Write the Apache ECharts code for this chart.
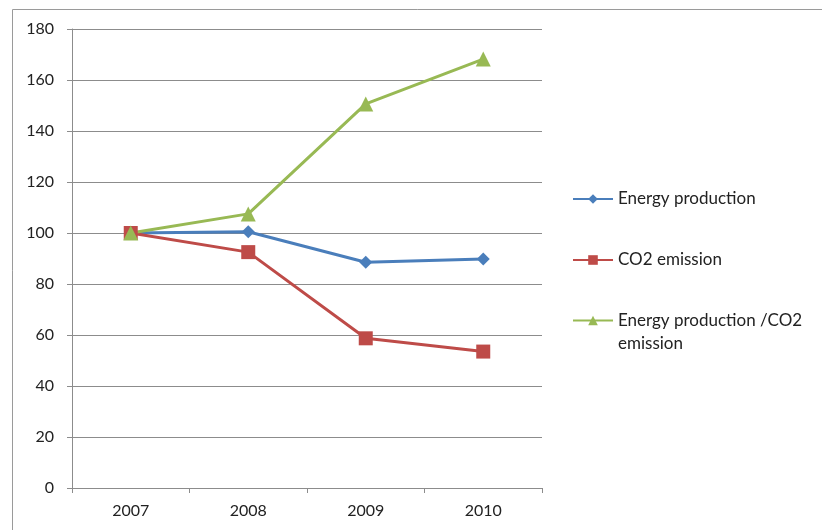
<!DOCTYPE html>
<html>
<head>
<meta charset="utf-8">
<script src="https://cdn.jsdelivr.net/npm/echarts@6/dist/echarts.min.js"></script>
<style>
html, body { margin: 0; padding: 0; background: #fff; }
#chart { width: 822px; height: 530px; }
</style>
</head>
<body>
<div id="chart"></div>
<script>
var years = ['2007', '2008', '2009', '2010'];
var energyProduction = [100, 100.5, 88.5, 89.8];
var co2Emission = [100, 92.5, 58.7, 53.5];
var energyPerCo2 = [100, 107.5, 150.6, 168.2];
var yTicks = { min: 0, max: 180, interval: 20 };

var chart = echarts.init(document.getElementById('chart'));
var font = 'Lato, "Open Sans", sans-serif';
var legendText = { fontFamily: font, fontSize: 17, color: '#222' };

var option = {
	backgroundColor: '#fff',
	animation: false,
	// outer frame of the chart area
	graphic: [{
		type: 'rect',
		left: 10,
		top: 7,
		shape: { width: 840, height: 560 },
		style: { fill: 'none', stroke: '#9a9a9a', lineWidth: 1 }
	}],
	grid: {
		left: 72,
		top: 29,
		right: 280,
		bottom: 42
	},
	legend: [{
		orient: 'vertical',
		left: 572,
		top: 189,
		padding: 0,
		itemWidth: 40,
		itemHeight: 12,
		itemGap: 41,
		textStyle: Object.assign({ lineHeight: 20 }, legendText),
		data: ['Energy production', 'CO2 emission']
	}, {
		// two-line item: empty first line keeps the icon on the first text line
		orient: 'vertical',
		left: 572,
		top: 286,
		padding: 0,
		itemWidth: 40,
		itemHeight: 12,
		textStyle: Object.assign({ lineHeight: 23 }, legendText),
		formatter: function(name) {
			return '\n' + name.replace(' /CO2 emission', ' /CO2\nemission');
		},
		data: ['Energy production /CO2 emission']
	}],
	xAxis: {
		type: 'category',
		data: years,
		boundaryGap: true,
		axisLine: { lineStyle: { color: '#8c8c8c', width: 1 } },
		axisTick: { show: true, length: 5, lineStyle: { color: '#8c8c8c' } },
		axisLabel: { fontFamily: font, fontSize: 16, color: '#222', margin: 15 }
	},
	yAxis: {
		type: 'value',
		min: yTicks.min,
		max: yTicks.max,
		interval: yTicks.interval,
		axisLine: { show: true, lineStyle: { color: '#8c8c8c', width: 1 } },
		axisTick: { show: true, length: 5, lineStyle: { color: '#8c8c8c' } },
		axisLabel: { fontFamily: font, fontSize: 16, color: '#222', margin: 18 },
		splitLine: { lineStyle: { color: '#8c8c8c', width: 1 } }
	},
	series: [{
		name: 'Energy production',
		type: 'line',
		data: energyProduction,
		symbol: 'diamond',
		symbolSize: 13,
		color: '#4a7ebb',
		lineStyle: { width: 3 }
	}, {
		name: 'CO2 emission',
		type: 'line',
		data: co2Emission,
		symbol: 'rect',
		symbolSize: 14,
		color: '#be4b48',
		lineStyle: { width: 3 }
	}, {
		name: 'Energy production /CO2 emission',
		type: 'line',
		data: energyPerCo2,
		symbol: 'triangle',
		symbolSize: 15,
		color: '#98b954',
		lineStyle: { width: 3 }
	}]
};

chart.setOption(option);
</script>
</body>
</html>
